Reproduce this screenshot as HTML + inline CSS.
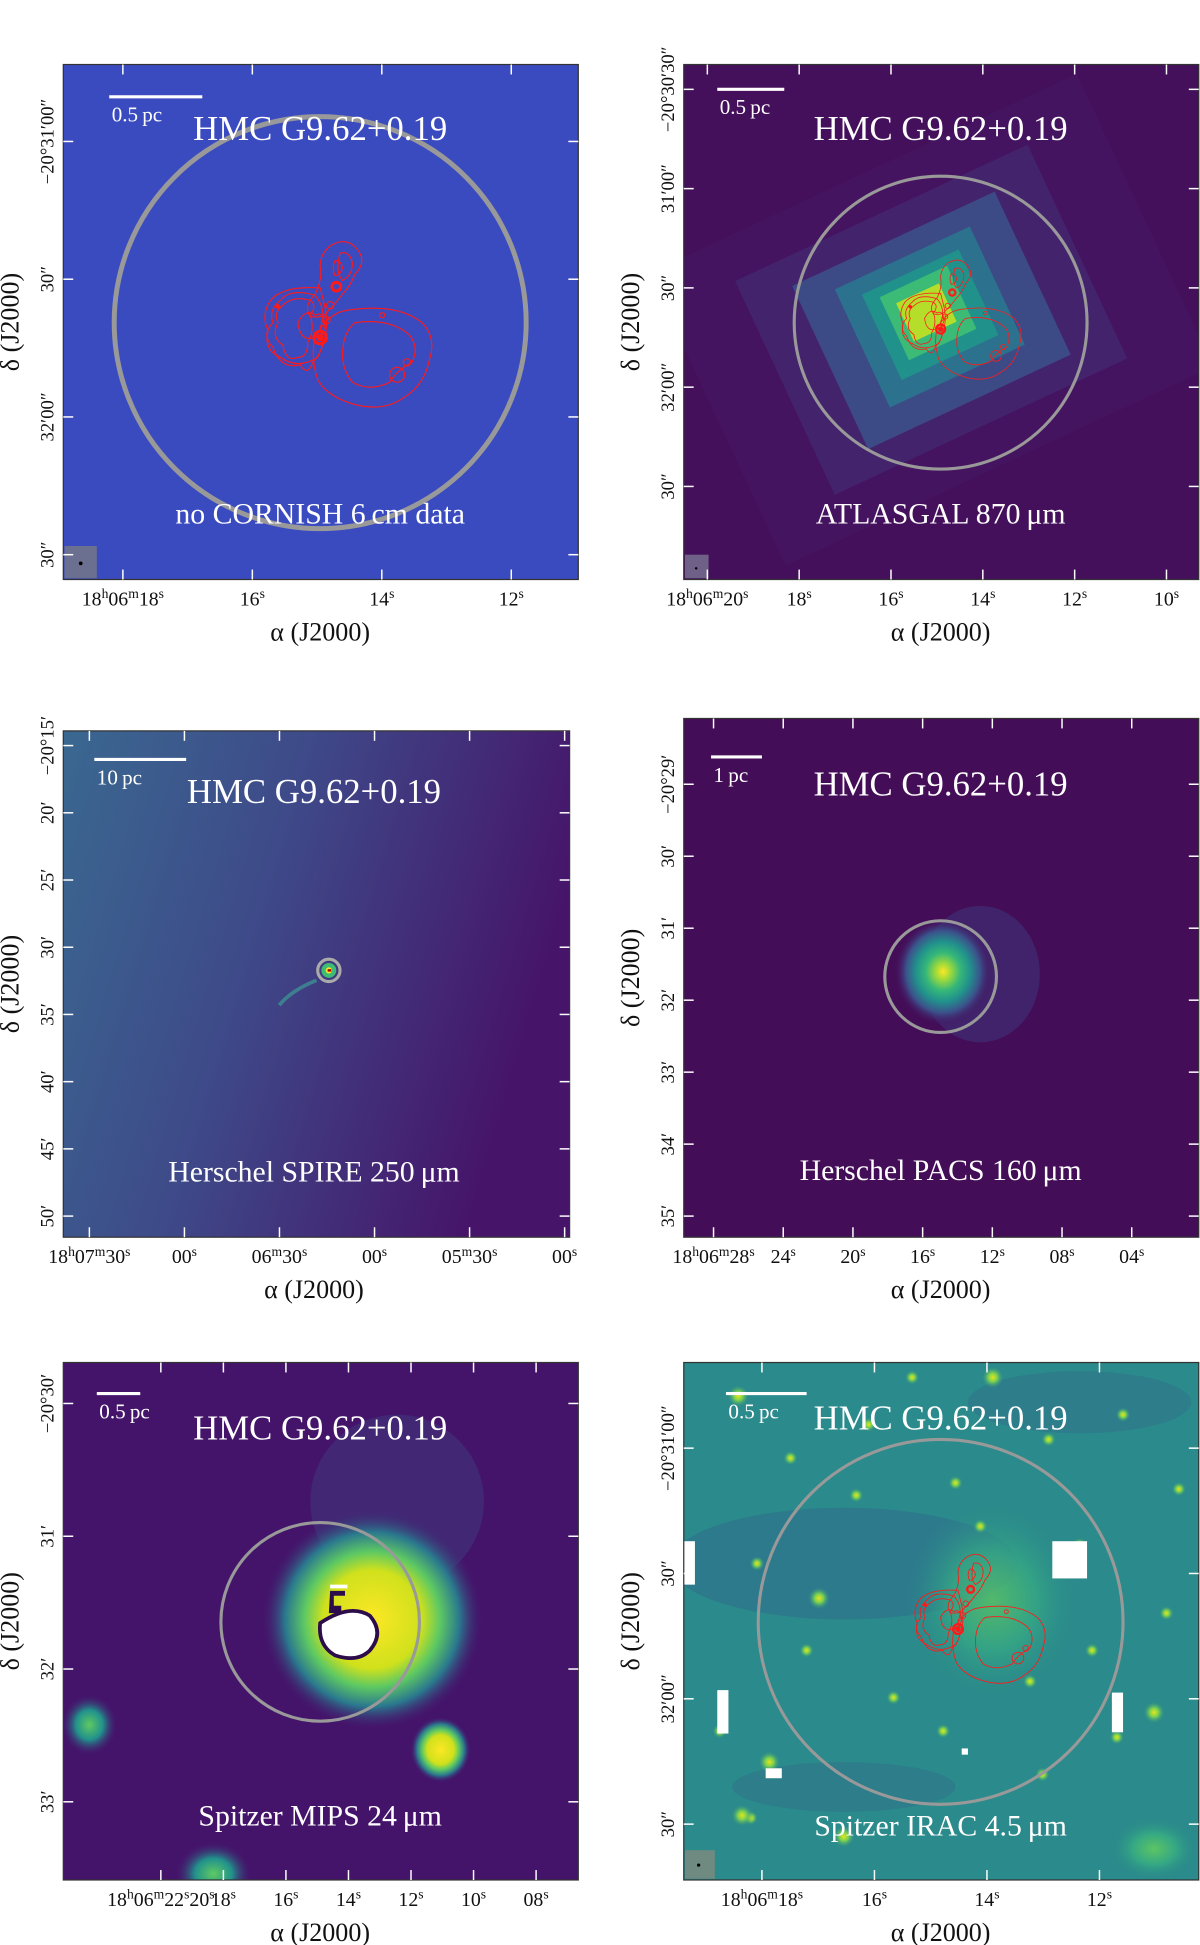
<!DOCTYPE html>
<html><head><meta charset="utf-8"><style>
html,body{margin:0;padding:0;background:#fff}
svg{display:block}
text{font-family:"Liberation Serif","DejaVu Serif",serif}
</style></head><body>
<svg id="fig" width="1200" height="1945" viewBox="0 0 967 1567.4" xmlns="http://www.w3.org/2000/svg">
<defs>
<clipPath id="c1"><rect x="51" y="52" width="415" height="415"/></clipPath>
<clipPath id="c2"><rect x="551" y="52" width="415" height="415"/></clipPath>
<clipPath id="c3"><rect x="51" y="589" width="408" height="408"/></clipPath>
<clipPath id="c4"><rect x="551" y="579" width="415" height="418"/></clipPath>
<clipPath id="c5"><rect x="51" y="1098" width="415" height="417"/></clipPath>
<clipPath id="c6"><rect x="551" y="1098" width="415" height="417"/></clipPath>
<linearGradient id="lg3" x1="0" y1="0" x2="1" y2="0.3">
<stop offset="0" stop-color="#3a6890"/><stop offset="0.45" stop-color="#3e4a89"/><stop offset="1" stop-color="#46156a"/></linearGradient>
<radialGradient id="g4" cx="0.5" cy="0.5" r="0.5">
<stop offset="0" stop-color="#fde725"/><stop offset="0.15" stop-color="#9fda3a"/><stop offset="0.35" stop-color="#35b779"/><stop offset="0.55" stop-color="#21918c"/><stop offset="0.75" stop-color="#3b528b"/><stop offset="1" stop-color="#45095a" stop-opacity="0"/></radialGradient>
<radialGradient id="g5" cx="0.5" cy="0.5" r="0.5">
<stop offset="0" stop-color="#fde725"/><stop offset="0.45" stop-color="#d0e11c"/><stop offset="0.62" stop-color="#5ec962"/><stop offset="0.8" stop-color="#2a788e"/><stop offset="1" stop-color="#3f2a70" stop-opacity="0"/></radialGradient>
<radialGradient id="g5s" cx="0.5" cy="0.5" r="0.5">
<stop offset="0" stop-color="#5ec962"/><stop offset="0.5" stop-color="#21918c"/><stop offset="1" stop-color="#3f2a70" stop-opacity="0"/></radialGradient>
<radialGradient id="gs" cx="0.5" cy="0.5" r="0.5">
<stop offset="0" stop-color="#e6e419"/><stop offset="0.4" stop-color="#7ad151"/><stop offset="1" stop-color="#2a8c8a" stop-opacity="0"/></radialGradient>
<radialGradient id="g6" cx="0.5" cy="0.5" r="0.5">
<stop offset="0" stop-color="#5cc464"/><stop offset="0.5" stop-color="#35a884"/><stop offset="1" stop-color="#2a8c8a" stop-opacity="0"/></radialGradient>
<g id="contour" fill="none" stroke="#ff1a1a" stroke-width="0.9">
<path d="M10,-65 q12,-6 20,4 q8,10 -2,20 q-4,10 -10,16 q-6,8 -12,14 q-4,6 -14,4 q-6,-8 4,-18 q6,-12 4,-22 q0,-12 10,-18z"/>
<path d="M16,-58 q8,-2 10,8 q0,10 -8,14 q-6,-6 -2,-22z"/>
<path d="M12,-52 q5,0 6,6 q-2,6 -6,6 q-3,-6 0,-12z"/>
<path d="M-8,-20 q-14,-4 -22,4 q-8,6 -4,14 q-6,12 4,18 q2,14 12,10 q8,0 8,-12 q6,-10 2,-22 q6,-8 0,-12z"/>
<path d="M-4,-24 q-20,-6 -28,4 q-10,8 -6,18 q-10,10 0,20 q6,18 22,14 q6,10 10,-2 q12,-12 6,-28 q6,-14 -4,-26z"/>
<path d="M0,-30 q-30,-2 -40,10 q-8,12 -2,24 q-4,16 10,22 q14,10 30,0 q10,-20 6,-40z"/>
<path d="M22,-12 q40,-6 60,10 q12,12 6,30 q-4,20 -20,30 q-16,12 -40,6 q-22,-6 -30,-20 q-6,-18 -2,-34 q10,-20 26,-22z"/>
<path d="M28,-2 q28,-4 44,10 q8,10 2,22 q-12,6 -18,16 q-16,8 -30,0 q-8,-10 -8,-22 q0,-18 10,-26z"/>
<path d="M-18,-2 q6,-12 14,-6 q6,-4 8,8 q-2,8 -8,10 q-12,4 -14,-12z"/>
<circle cx="0" cy="10" r="5" stroke-width="2.5"/><circle cx="0" cy="10" r="2.5" fill="#ff1a1a"/>
<circle cx="13" cy="-31" r="3.5" stroke-width="2.5"/>
<circle cx="8" cy="-16" r="3"/><circle cx="5" cy="-4" r="3"/>
<circle cx="62" cy="40" r="6"/><circle cx="70" cy="30" r="3"/><circle cx="50" cy="-8" r="2"/><circle cx="-34" cy="-15" r="1.5" fill="#ff1a1a"/>
</g>
</defs>

<!-- Panel 1 -->
<g clip-path="url(#c1)">
<rect x="51" y="52" width="415" height="415" fill="#3a4bbf"/>
<rect x="52" y="440" width="26" height="26" fill="#6b7090"/>
<circle cx="65" cy="454" r="1.5" fill="#000"/>
<use href="#contour" transform="translate(258,262)"/>
<circle cx="258" cy="260" r="166" fill="none" stroke="#999" stroke-width="4"/>
</g>
<rect x="51" y="52" width="415" height="415" fill="none" stroke="#333"/>
<!-- Panel 2 -->
<g clip-path="url(#c2)">
<rect x="551" y="52" width="415" height="415" fill="#45105b"/>
<g transform="rotate(-25 745 258)">
<rect x="560" y="130" width="380" height="260" fill="#462a78" opacity="0.2"/>
<rect x="620" y="165" width="260" height="190" fill="#443983" opacity="0.4"/>
<rect x="660" y="188" width="180" height="145" fill="#3b528b" opacity="0.85"/>
<rect x="690" y="205" width="120" height="105" fill="#2c728e"/>
<rect x="708" y="218" width="86" height="76" fill="#21918c"/>
<rect x="720" y="226" width="60" height="56" fill="#3bbb75"/>
<rect x="730" y="236" width="38" height="34" fill="#b5de2b"/>
</g>
<rect x="552" y="447" width="19" height="19" fill="#6e6086"/>
<circle cx="561" cy="458" r="1" fill="#000"/>
<use href="#contour" transform="translate(758,258) scale(0.72)"/>
<circle cx="758" cy="260" r="118" fill="none" stroke="#999" stroke-width="2.5"/>
</g>
<rect x="551" y="52" width="415" height="415" fill="none" stroke="#333"/>
<!-- Panel 3 -->
<g clip-path="url(#c3)">
<rect x="51" y="589" width="408" height="408" fill="url(#lg3)"/>
<path d="M255,790 q-20,8 -30,20" stroke="#3d7f90" stroke-width="3" fill="none"/>
<circle cx="265" cy="782" r="6" fill="#3fbc73"/>
<circle cx="265" cy="782" r="2.5" fill="#fde725"/>
<rect x="264" y="781" width="3" height="2" fill="#a00"/>
<circle cx="265" cy="782" r="9" fill="none" stroke="#aaa" stroke-width="2.5"/>
</g>
<rect x="51" y="589" width="408" height="408" fill="none" stroke="#333"/>
<!-- Panel 4 -->
<g clip-path="url(#c4)">
<rect x="551" y="579" width="415" height="418" fill="#440d57"/>
<ellipse cx="790" cy="785" rx="48" ry="55" fill="#3b3f85" opacity="0.45"/>
<ellipse cx="760" cy="783" rx="40" ry="44" fill="url(#g4)"/>
<circle cx="758" cy="787" r="45" fill="none" stroke="#999" stroke-width="2.5"/>
</g>
<rect x="551" y="579" width="415" height="418" fill="none" stroke="#333"/>
<!-- Panel 5 -->
<g clip-path="url(#c5)">
<rect x="51" y="1098" width="415" height="417" fill="#44146b"/>
<ellipse cx="320" cy="1210" rx="70" ry="70" fill="#3e4a89" opacity="0.35"/>
<ellipse cx="300" cy="1305" rx="88" ry="88" fill="url(#g5)"/>
<ellipse cx="72" cy="1390" rx="22" ry="24" fill="url(#g5s)"/>
<ellipse cx="355" cy="1410" rx="24" ry="26" fill="url(#g5)"/>
<ellipse cx="172" cy="1510" rx="30" ry="25" fill="url(#g5s)"/>
<path d="M258,1308 q-2,18 12,26 q18,6 28,-4 q12,-14 0,-28 q-16,-10 -40,6z" fill="#fff" stroke="#2c0c4a" stroke-width="3"/>
<path d="M266,1282 h12 v4 h-9 v8 h6 v6 h-10z" fill="#2c0c4a"/>
<rect x="266" y="1277" width="14" height="3" fill="#fff"/>
<circle cx="258" cy="1307" r="80" fill="none" stroke="#999" stroke-width="2.5"/>
</g>
<rect x="51" y="1098" width="415" height="417" fill="none" stroke="#333"/>
<!-- Panel 6 -->
<g clip-path="url(#c6)">
<rect x="551" y="1098" width="415" height="417" fill="#2b8a8b"/>
<ellipse cx="680" cy="1260" rx="140" ry="45" fill="#30658d" opacity="0.45"/>
<ellipse cx="870" cy="1130" rx="90" ry="25" fill="#30658d" opacity="0.35"/>
<ellipse cx="680" cy="1440" rx="90" ry="20" fill="#30658d" opacity="0.35"/>
<ellipse cx="800" cy="1290" rx="70" ry="80" fill="url(#g6)" opacity="0.8"/>
<ellipse cx="930" cy="1490" rx="35" ry="25" fill="url(#g6)"/>
<g id="stars"></g>
<rect x="551" y="1242" width="9" height="35" fill="#fff"/>
<rect x="578" y="1362" width="9" height="35" fill="#fff"/>
<rect x="848" y="1242" width="28" height="30" fill="#fff"/>
<rect x="896" y="1364" width="9" height="32" fill="#fff"/>
<rect x="617" y="1425" width="13" height="8" fill="#fff"/>
<rect x="775" y="1409" width="5" height="5" fill="#fff"/>
<rect x="552" y="1491" width="24" height="23" fill="#6f8a80"/>
<circle cx="563" cy="1503" r="1.3" fill="#000"/>
<use href="#contour" transform="translate(772,1305) scale(0.78)"/>
<circle cx="758" cy="1307" r="147" fill="none" stroke="#999" stroke-width="2.5"/>
</g>
<rect x="551" y="1098" width="415" height="417" fill="none" stroke="#333"/>
<g id="overlay"></g>
</svg>
<script>
// ---- data arrays ----
const panelTitle = "HMC G9.62+0.19";
const bandLabels = ["no CORNISH 6\u2009cm data","ATLASGAL 870\u2009\u03bcm","Herschel SPIRE 250\u2009\u03bcm","Herschel PACS 160\u2009\u03bcm","Spitzer MIPS 24\u2009\u03bcm","Spitzer IRAC 4.5\u2009\u03bcm"];
const scaleLabels = ["0.5\u2009pc","0.5\u2009pc","10\u2009pc","1\u2009pc","0.5\u2009pc","0.5\u2009pc"];
// RA tick values (seconds) and labels (^x = superscript)
const raTicks1 = [18,16,14,12]; const raLabels1 = ["18^h06^m18^s","16^s","14^s","12^s"];
const raTicks2 = [20,18,16,14,12,10]; const raLabels2 = ["18^h06^m20^s","18^s","16^s","14^s","12^s","10^s"];
const raTicks3 = [90,60,30,0,-30,-60]; const raLabels3 = ["18^h07^m30^s","00^s","06^m30^s","00^s","05^m30^s","00^s"];
const raTicks4 = [28,24,20,16,12,8,4]; const raLabels4 = ["18^h06^m28^s","24^s","20^s","16^s","12^s","08^s","04^s"];
const raTicks5 = [20,18,16,14,12,10,8]; const raLabels5 = ["18^h06^m22^s20^s","18^s","16^s","14^s","12^s","10^s","08^s"];
const raTicks6 = [18,16,14,12]; const raLabels6 = ["18^h06^m18^s","16^s","14^s","12^s"];
// Dec tick values and labels
const decTicks1 = [0,30,60,90]; const decLabels1 = ["\u221220°31\u203200\u2033","30\u2033","32\u203200\u2033","30\u2033"];
const decTicks2 = [0,30,60,90,120]; const decLabels2 = ["\u221220°30\u203230\u2033","31\u203200\u2033","30\u2033","32\u203200\u2033","30\u2033"];
const decTicks3 = [0,5,10,15,20,25,30,35]; const decLabels3 = ["\u221220°15\u2032","20\u2032","25\u2032","30\u2032","35\u2032","40\u2032","45\u2032","50\u2032"];
const decTicks4 = [0,1,2,3,4,5,6]; const decLabels4 = ["\u221220°29\u2032","30\u2032","31\u2032","32\u2032","33\u2032","34\u2032","35\u2032"];
const decTicks5 = [0,1,2,3]; const decLabels5 = ["\u221220°30\u2032","31\u2032","32\u2032","33\u2032"];
const decTicks6 = [0,30,60,90]; const decLabels6 = ["\u221220°31\u203200\u2033","30\u2033","32\u203200\u2033","30\u2033"];

const NS="http://www.w3.org/2000/svg";
const ov=document.getElementById('overlay');
function mk(tag,attrs,txt){const e=document.createElementNS(NS,tag);for(const k in attrs)e.setAttribute(k,attrs[k]);if(txt!==undefined)e.textContent=txt;ov.appendChild(e);return e;}
function lin(d0,d1,r0,r1){return v=>r0+(v-d0)*(r1-r0)/(d1-d0);}
function supText(el,str){
 str.split(/(\^[a-z])/).forEach(part=>{
  if(!part)return;
  const t=document.createElementNS(NS,'tspan');
  if(part[0]==='^'){t.textContent=part[1];t.setAttribute('font-size','11');t.setAttribute('dy','-6');}
  else{t.textContent=part;if(el.lastChild&&el.lastChild.getAttribute('dy')==='-6')t.setAttribute('dy','6');}
  el.appendChild(t);
 });
}

const panels=[
 {x0:51,x1:466,y0:52,y1:467,cx:258,ra:raTicks1,raL:raLabels1,rx:lin(18,12,99,412),dec:decTicks1,decL:decLabels1,dy:lin(30,90,225,447),sb:[88,163,78],ty:113,by:422},
 {x0:551,x1:966,y0:52,y1:467,cx:758,ra:raTicks2,raL:raLabels2,rx:lin(20,10,570,940),dec:decTicks2,decL:decLabels2,dy:lin(30,120,152,392),sb:[578,632,72],ty:113,by:422},
 {x0:51,x1:459,y0:589,y1:997,cx:253,ra:raTicks3,raL:raLabels3,rx:lin(90,-60,72,455),dec:decTicks3,decL:decLabels3,dy:lin(5,35,655,980),sb:[76,150,612],ty:647,by:952},
 {x0:551,x1:966,y0:579,y1:997,cx:758,ra:raTicks4,raL:raLabels4,rx:lin(28,4,575,912),dec:decTicks4,decL:decLabels4,dy:lin(1,6,690,980),sb:[573,614,610],ty:641,by:951},
 {x0:51,x1:466,y0:1098,y1:1515,cx:258,ra:raTicks5,raL:raLabels5,rx:lin(18,8,180,432),dec:decTicks5,decL:decLabels5,dy:lin(1,3,1238,1452),sb:[78,113,1123],ty:1160,by:1471},
 {x0:551,x1:966,y0:1098,y1:1515,cx:758,ra:raTicks6,raL:raLabels6,rx:lin(18,12,614,886),dec:decTicks6,decL:decLabels6,dy:lin(30,90,1268,1470),sb:[585,650,1123],ty:1152,by:1479}
];
panels.forEach((p,i)=>{
 p.ra.forEach((v,j)=>{
  const x=p.rx(v);
  let t=mk('line',{x1:x,x2:x,y1:p.y1,y2:p.y1-8,stroke:'#fff','stroke-width':1.2});
  
  
  let t2=mk('line',{x1:x,x2:x,y1:p.y0,y2:p.y0+8,stroke:'#fff','stroke-width':1.2});
  
  
  let l=mk('text',{x:x,y:p.y1+21,'font-size':16,'text-anchor':'middle',fill:'#111'});
  supText(l,p.raL[j]);
  
  
 });
 p.dec.forEach((v,j)=>{
  const y=p.dy(v);
  let t=mk('line',{x1:p.x0,x2:p.x0+8,y1:y,y2:y,stroke:'#fff','stroke-width':1.2});
  
  
  let t2=mk('line',{x1:p.x1,x2:p.x1-8,y1:y,y2:y,stroke:'#fff','stroke-width':1.2});
  
  
  const lx=p.x0-8;
  let l=mk('text',{x:lx,y:y,'font-size':15,'text-anchor':'middle',fill:'#111',transform:`rotate(-90 ${lx} ${y})`},p.decL[j]);
  
  
 });
 let xa=mk('text',{x:p.cx,y:p.y1+49,'font-size':21,'text-anchor':'middle',fill:'#111'},'\u03b1 (J2000)');
 
 
 const yx=p.x0-36, yy=(p.y0+p.y1)/2;
 let ya=mk('text',{x:yx,y:yy,'font-size':21,'text-anchor':'middle',fill:'#111',transform:`rotate(-90 ${yx} ${yy})`},'\u03b4 (J2000)');
 
 
 let sb=mk('line',{x1:p.sb[0],x2:p.sb[1],y1:p.sb[2],y2:p.sb[2],stroke:'#fff','stroke-width':2.5});
 
 
 let sl=mk('text',{x:p.sb[0]+2,y:p.sb[2]+20,'font-size':17,fill:'#fff'},scaleLabels[i]);
 
 
 let tt=mk('text',{x:p.cx,y:p.ty,'font-size':28,'text-anchor':'middle',fill:'#fff'},panelTitle);
 
 
 let bl=mk('text',{x:p.cx,y:p.by,'font-size':24,'text-anchor':'middle',fill:'#fff'},bandLabels[i]);
 
 
});
// IRAC stars (decorative image features)
const starX=[595,637,700,735,800,845,905,940,660,690,770,610,620,880,720,605,598,950,900,840,680,760,830,580,930,650,790,870];
const starY=[1125,1175,1148,1110,1110,1160,1140,1300,1288,1205,1195,1260,1420,1330,1368,1465,1463,1200,1400,1430,1480,1395,1355,1395,1380,1330,1230,1245];
const sg=document.getElementById('stars');
starX.forEach((x,k)=>{const c=document.createElementNS(NS,'circle');
 c.setAttribute('cx',x);c.setAttribute('cy',starY[k]);c.setAttribute('r',k%4===0?9:6);c.setAttribute('fill','url(#gs)');
 
 
 sg.appendChild(c);});
</script>
</body></html>
